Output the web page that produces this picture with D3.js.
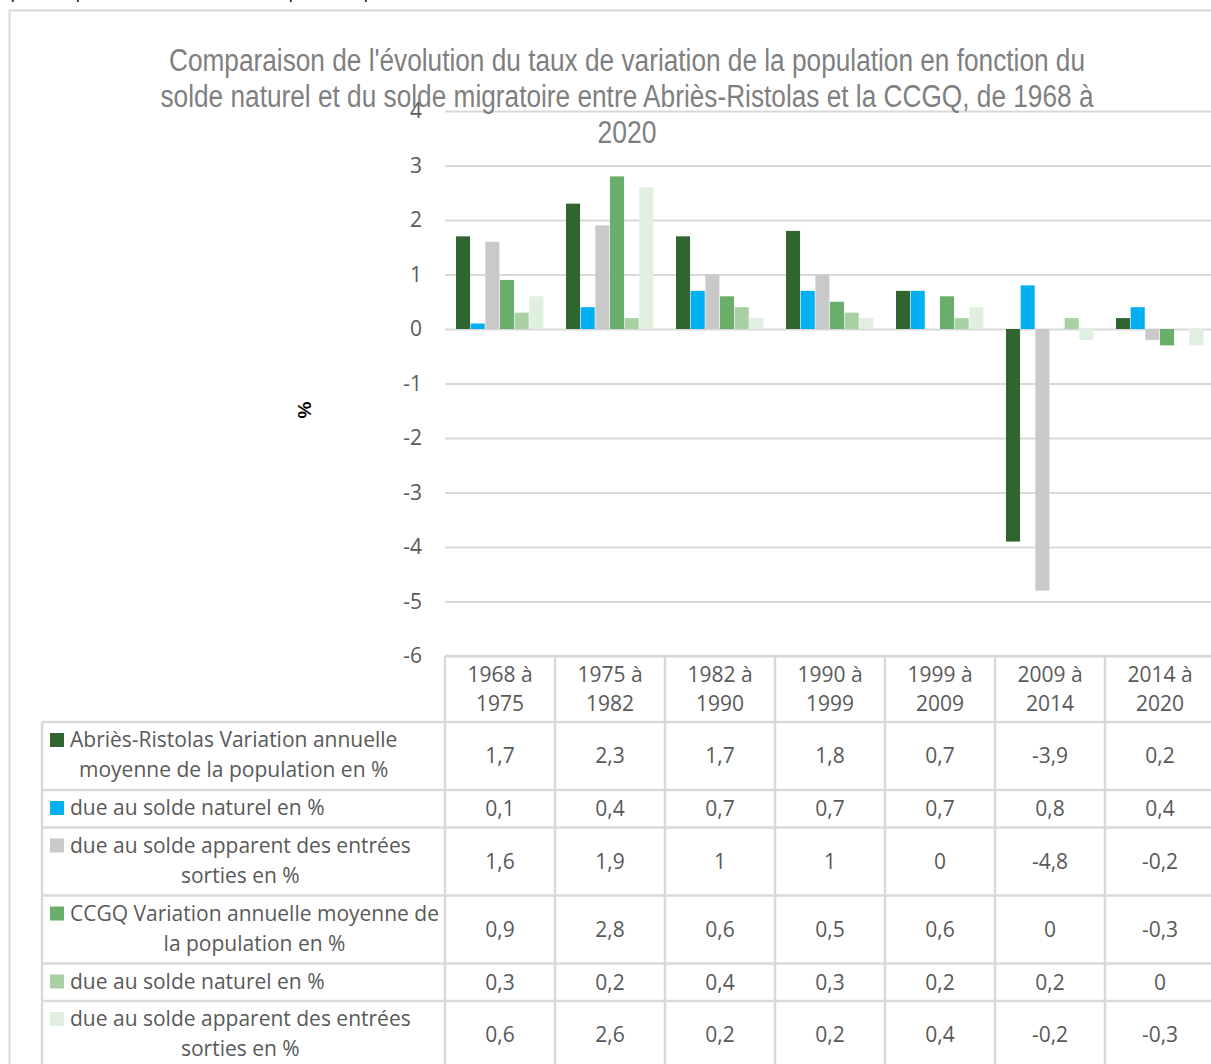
<!DOCTYPE html>
<html>
<head>
<meta charset="utf-8">
<script src="https://cdn.jsdelivr.net/npm/d3@7"></script>
<style>
  body { margin: 0; background: #fff; }
  svg { display: block; }
</style>
</head>
<body>
<div id="chart"></div>
<script>
// Data
var periods = ["1968 à 1975", "1975 à 1982", "1982 à 1990", "1990 à 1999", "1999 à 2009", "2009 à 2014", "2014 à 2020"];
var abriesVar = [1.7, 2.3, 1.7, 1.8, 0.7, -3.9, 0.2];
var abriesNaturel = [0.1, 0.4, 0.7, 0.7, 0.7, 0.8, 0.4];
var abriesApparent = [1.6, 1.9, 1, 1, 0, -4.8, -0.2];
var ccgqVar = [0.9, 2.8, 0.6, 0.5, 0.6, 0, -0.3];
var ccgqNaturel = [0.3, 0.2, 0.4, 0.3, 0.2, 0.2, 0];
var ccgqApparent = [0.6, 2.6, 0.2, 0.2, 0.4, -0.2, -0.3];
var seriesLabels = [
  ["Abriès-Ristolas Variation annuelle", "moyenne de la population en %"],
  ["due au solde naturel en %"],
  ["due au solde apparent des entrées", "sorties en %"],
  ["CCGQ Variation annuelle moyenne de", "la population en %"],
  ["due au solde naturel en %"],
  ["due au solde apparent des entrées", "sorties en %"]
];
var yTicks = [-6, -5, -4, -3, -2, -1, 0, 1, 2, 3, 4];
var titleLines = [
  "Comparaison de l'évolution du taux de variation de la population en fonction du",
  "solde naturel et du solde migratoire entre Abriès-Ristolas et la CCGQ, de 1968 à",
  "2020"
];

var seriesValues = [abriesVar, abriesNaturel, abriesApparent, ccgqVar, ccgqNaturel, ccgqApparent];
var colors = ["#31652f", "#00b0f0", "#c9c9c9", "#6aae6b", "#a8d0a4", "#e0efdf"];

var width = 1211, height = 1064;
var gridColor = "#d9d9d9";
var textColor = "#595959";
var tableFont = "'Open Sans', 'Noto Sans', sans-serif";

var svg = d3.select("#chart")
  .append("svg")
  .attr("width", width)
  .attr("height", height);

// clipped text descenders from the page above
svg.append("g")
  .selectAll("text")
  .data([11, 76, 289, 364])
  .enter()
  .append("text")
  .attr("x", d => d)
  .attr("y", -1)
  .style("font-family", "'Liberation Sans', sans-serif")
  .style("font-size", "16px")
  .style("fill", "#000")
  .text("p")

// chart frame
svg.append("path")
  .attr("d", "M9.5,1064 V10.5 H1211")
  .attr("fill", "none")
  .attr("stroke", gridColor)
  .attr("stroke-width", 2)

// Scales
var xScale = d3.scaleBand()
  .domain(periods)
  .range([445, 1215])

var xInner = d3.scaleBand()
  .domain(d3.range(seriesValues.length))
  .range([11, 99])

var yScale = d3.scaleLinear()
  .domain([-6, 4])
  .range([656, 111])

// Y grid
var yGrid = d3.axisLeft(yScale)
  .tickValues(yTicks)
  .tickSize(-(1215 - 445))
  .tickFormat("")

svg.append("g")
  .attr("transform", "translate(445,0)")
  .attr("class", "grid")
  .call(yGrid)
  .call(g => g.select(".domain").remove())
  .selectAll("line")
  .attr("stroke", gridColor)
  .attr("stroke-width", 2)

// Y axis labels
var yAxis = d3.axisLeft(yScale)
  .tickValues(yTicks)
  .tickSize(0)
  .tickPadding(23)
  .tickFormat(d => d < 0 ? "-" + Math.abs(d) : d)

svg.append("g")
  .attr("transform", "translate(445,0)")
  .attr("class", "y-axis")
  .call(yAxis)
  .call(g => g.select(".domain").remove())
  .selectAll("text")
  .style("font-family", tableFont)
  .style("font-size", "21px")
  .style("fill", textColor)

// Y axis title
svg.append("text")
  .attr("transform", "translate(311,410) rotate(-90)")
  .style("text-anchor", "middle")
  .style("font-family", "'Liberation Sans', sans-serif")
  .style("font-weight", "bold")
  .style("font-size", "19px")
  .style("fill", "#000")
  .text("%")

// Bars
var barsG = svg.append("g").attr("class", "bars");
seriesValues.forEach(function(vals, si) {
  barsG.selectAll(".bar-" + si)
    .data(vals)
    .enter()
    .append("rect")
    .attr("class", "bar-" + si)
    .attr("x", (d, i) => xScale(periods[i]) + xInner(si))
    .attr("width", xInner.bandwidth() - 0.6)
    .attr("y", d => yScale(Math.max(0, d)))
    .attr("height", d => Math.abs(yScale(d) - yScale(0)))
    .style("fill", colors[si])
})

// Title
var title = svg.append("g").attr("class", "title");
var titleWidths = [916, 933, 59];
titleLines.forEach(function(line, i) {
  title.append("text")
    .attr("x", 627)
    .attr("y", 71 + i * 36)
    .attr("textLength", titleWidths[i])
    .attr("lengthAdjust", "spacingAndGlyphs")
    .style("text-anchor", "middle")
    .style("font-family", "'Liberation Sans Narrow', 'Arial Narrow', sans-serif")
    .style("font-size", "31px")
    .style("fill", "#7f7f7f")
    .text(line)
})

// Data table
var table = svg.append("g").attr("class", "table")
  .style("font-family", tableFont)
  .style("font-size", "21px")
  .style("fill", textColor);
var lineStyle = g => g.attr("stroke", gridColor).attr("stroke-width", 2.5);

// header
table.append("line").attr("x1", 445).attr("x2", 1215).attr("y1", 656).attr("y2", 656).call(lineStyle)
periods.forEach(function(p) {
  var parts = p.split(" à ");
  var cx = xScale(p) + xScale.bandwidth() / 2;
  table.append("text")
    .attr("x", cx).attr("y", 682)
    .attr("text-anchor", "middle")
    .text(parts[0] + " à")
  table.append("text")
    .attr("x", cx).attr("y", 711)
    .attr("text-anchor", "middle")
    .text(parts[1])
})

var fmt = v => String(v).replace(".", ",");
var rowTop = 722;
var rowTops = [];
seriesValues.forEach(function(vals, si) {
  var lines = seriesLabels[si];
  var h = lines.length === 2 ? 68 : 37.5;
  rowTops.push(rowTop);
  // key
  table.append("rect")
    .attr("x", 50).attr("y", rowTop + 11)
    .attr("width", 14).attr("height", 14)
    .style("fill", colors[si])
  var l1 = table.append("text")
    .attr("x", 70).attr("y", rowTop + 25)
    .attr("text-anchor", "start")
    .text(lines[0])
  if (lines.length === 2) {
    var end1 = 70 + l1.node().getComputedTextLength();
    table.append("text")
      .attr("x", (50 + end1) / 2 + 10).attr("y", rowTop + 55)
      .attr("text-anchor", "middle")
      .text(lines[1])
  }
  vals.forEach(function(v, i) {
    table.append("text")
      .attr("x", xScale(periods[i]) + xScale.bandwidth() / 2)
      .attr("y", rowTop + (lines.length === 2 ? 41 : 26))
      .attr("text-anchor", "middle")
      .text(fmt(v))
  })
  rowTop += h;
})
rowTops.push(rowTop);

rowTops.forEach(function(y) {
  table.append("line").attr("x1", 42).attr("x2", 1215).attr("y1", y).attr("y2", y).call(lineStyle)
})
table.append("line").attr("x1", 42).attr("x2", 42).attr("y1", 722).attr("y2", rowTop).call(lineStyle)
periods.concat([null]).forEach(function(p) {
  var x = p ? xScale(p) : 1215;
  table.append("line").attr("x1", x).attr("x2", x).attr("y1", 656).attr("y2", rowTop).call(lineStyle)
})
</script>
</body>
</html>
